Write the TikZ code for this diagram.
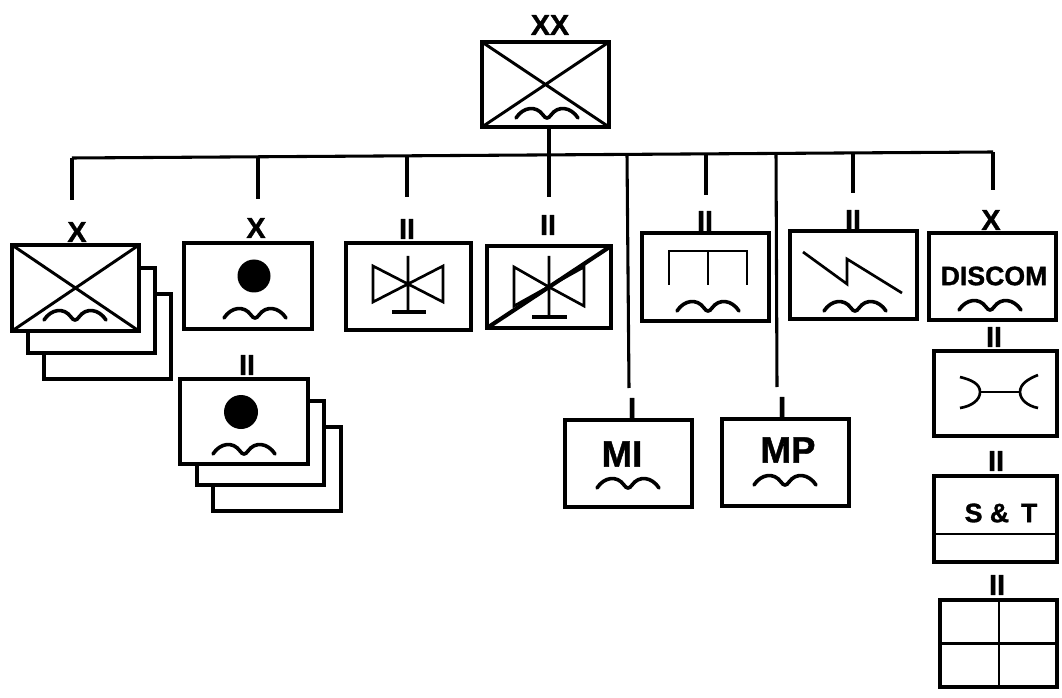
\documentclass[tikz,border=0pt]{standalone}
\usepackage{fontspec}
\setmainfont[BoldFeatures={FakeBold=1.2}]{Liberation Sans}
\newcommand\unitbox[5]{\node[unitrect,minimum width={(#4-#2)*0.75pt},minimum height={(#5-#3)*0.75pt}] (#1) at ({(#2+#4)/2},{(#3+#5)/2}) {};}
\newcommand\wavesym[2]{\draw[wavestroke,shift={(#1,#2)}] (-31,5) .. controls (-24,-6) and (-11,-8) .. (-4,2) .. controls (-3,4) and (-1,5) .. (0,5) .. controls (1,5) and (3,4) .. (4,2) .. controls (11,-8) and (24,-6) .. (31,5);}
\newcommand\tiesym[5]{\draw[symline,shift={(#1,#2)}] (0,0) -- (-35,-#3) -- (-35,#4) -- (35,-#3) -- (35,#4) -- cycle (0,-#5) -- (0,#5);}
\tikzset{
  x=0.75pt,y=-0.75pt,
  unitrect/.style={draw=black,fill=white,line width=2.4pt,inner sep=0pt,outer sep=0pt},
  conn/.style={draw=black,line width=2.3pt},
  cross/.style={draw=black,line width=2.2pt},
  wavestroke/.style={draw=black,line width=2.7pt,line cap=round},
  symline/.style={draw=black,line width=2pt,line join=miter},
  echelon/.style={font=\bfseries\fontsize{21.5}{22}\selectfont,inner sep=0pt},
  bigtag/.style={font=\bfseries\fontsize{27.5}{28}\selectfont,inner sep=0pt},
  midtag/.style={font=\bfseries\fontsize{20}{20}\selectfont,inner sep=0pt},
}
\begin{document}
\begin{tikzpicture}
\useasboundingbox[fill=white] (0,0) rectangle (1062,698);
% echelon labels
\node[echelon] (lxx) at (550,25) {XX};
\node[echelon] (la) at (77,232) {X};
\node[echelon] (lb) at (256,228) {X};
\node[echelon] (lc) at (247,365) {II};
\node[echelon] (ld) at (407,229) {II};
\node[echelon] (le) at (548,225) {II};
\node[echelon] (lf) at (705,221) {II};
\node[echelon] (lg) at (853,220) {II};
\node[echelon] (lh) at (991,220) {X};
\node[echelon] (li) at (994,337) {II};
\node[echelon] (lj) at (996,461) {II};
\node[echelon] (lk) at (997,585) {II};
\node[echelon] (lmi) at (632,408) {I};
\node[echelon] (lmp) at (782,407) {I};
% bus and drops
\coordinate (busl) at (72,158);
\coordinate (busr) at (993,152);
\coordinate (j1) at (258,157);
\coordinate (e1) at (258,199);
\coordinate (j2) at (407,156);
\coordinate (e2) at (407,197);
\coordinate (j3) at (549,155);
\coordinate (e3) at (549,197);
\coordinate (j4) at (627,155);
\coordinate (e4) at (629,388);
\coordinate (j5) at (706,154);
\coordinate (e5) at (706,195);
\coordinate (j6) at (776,154);
\coordinate (e6) at (777,387);
\coordinate (j7) at (853,153);
\coordinate (e7) at (853,193);
\coordinate (e8) at (993,190);
\coordinate (e0) at (72,200);
\draw[conn] (busl) -- (busr);
\draw[conn] (busl) -- (e0);
\draw[conn] (j1) -- (e1);
\draw[conn] (j2) -- (e2);
\draw[conn] (j3) -- (e3);
\draw[conn] (j4) -- (e4);
\draw[conn] (j5) -- (e5);
\draw[conn] (j6) -- (e6);
\draw[conn] (j7) -- (e7);
\draw[conn] (busr) -- (e8);
% XX
\unitbox{xx}{482}{42}{609}{127}
\draw[cross] (xx.north west) -- (xx.south east) (xx.north east) -- (xx.south west);
\wavesym{547}{113}
\draw[conn] (j3 |- xx.south) -- (j3);
% A stack
\unitbox{a3}{44}{294}{171}{379}
\unitbox{a2}{28}{268}{155}{353}
\unitbox{a}{12}{245}{139}{331}
\draw[cross] (a.north west) -- (a.south east) (a.north east) -- (a.south west);
\wavesym{75}{315}
% B
\unitbox{b}{184}{243}{312}{329}
\fill (254,276) circle[radius=16.5];
\wavesym{255}{313}
% C stack
\unitbox{c3}{213}{427}{341}{511}
\unitbox{c2}{197}{401}{324}{485}
\unitbox{c}{180}{379}{308}{464}
\fill (241,412) circle[radius=17];
\wavesym{244}{449}
% D
\unitbox{d}{346}{243}{471}{330}
\tiesym{408}{284}{18}{18}{28}
\draw[symline,line width=2.6pt] (392,312) -- (426,312);
% E
\unitbox{e}{487}{246}{611}{328}
\tiesym{549}{287}{20}{19}{31}
\draw[symline,line width=2.6pt] (532,317) -- (567,317);
\draw[draw=black,line width=3.1pt] (e.south west) -- (e.north east);
% F
\unitbox{f}{642}{233}{769}{321}
\draw[symline] (669,285) -- (669,251) -- (747,251) -- (747,285) (708,251) -- (708,285);
\wavesym{708}{306}
% G
\unitbox{g}{790}{231}{917}{319}
\draw[symline] (803,252) -- (847,284) -- (847,259) -- (902,293);
\wavesym{855}{306}
% H
\unitbox{h}{929}{233}{1056}{320}
\node[midtag] (htext) at (994,276) {DISCOM};
\wavesym{990}{305}
% I
\unitbox{i}{934}{351}{1057}{436}
\draw[symline] (980,392) -- (1020,392);
\draw[symline] (960,377) .. controls (972,380) and (980,384) .. (980,392) .. controls (980,400) and (972,406) .. (960,408);
\draw[symline] (1038,375) .. controls (1028,379) and (1020,384) .. (1020,392) .. controls (1020,400) and (1028,406) .. (1038,408);
% J
\unitbox{j}{934}{476}{1057}{562}
\draw[cross] (j.west |- 0,534) -- (j.east |- 0,534);
\node[midtag] (jtext) at (1001,513) {S \& \,T};
% K
\unitbox{k}{940}{600}{1057}{687}
\draw[cross] (k.west) -- (k.east) (999,600) -- (999,687);
% MI, MP
\unitbox{mi}{565}{420}{692}{507}
\node[bigtag] (mitext) at (622,454) {MI};
\wavesym{628}{483}
\unitbox{mp}{722}{419}{849}{506}
\node[bigtag] (mptext) at (788,450) {MP};
\wavesym{785}{480}
\end{tikzpicture}
\end{document}
